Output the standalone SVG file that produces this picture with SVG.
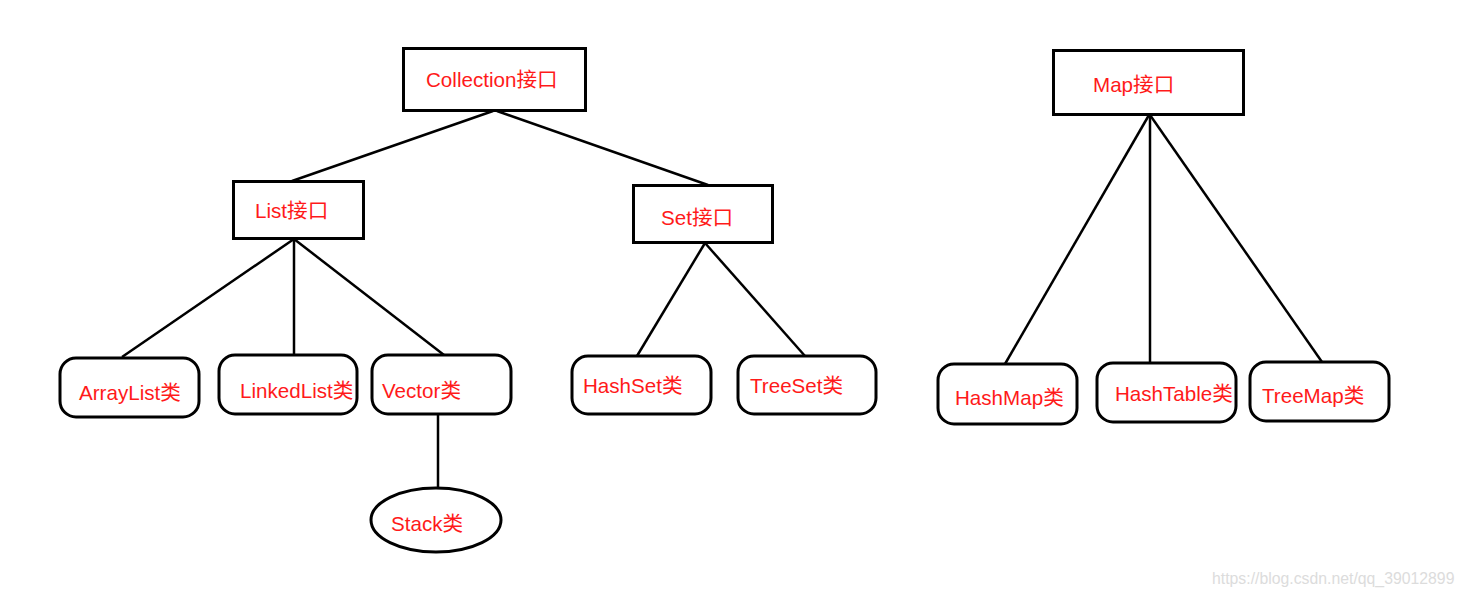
<svg xmlns="http://www.w3.org/2000/svg" width="1465" height="596" viewBox="0 0 1465 596">
<style>
.box{fill:#fff;stroke:#000;stroke-width:3}
.lbl{font-family:"Liberation Sans","Noto Sans CJK SC",sans-serif;font-size:20.6px;fill:#ff1a1a}
.conn line{stroke:#000;stroke-width:2.5}
.wm{font-family:"Liberation Sans",sans-serif;font-size:15.8px;fill:#dcdcdc}
</style>
<rect width="1465" height="596" fill="#fff"/>
<g class="conn">
<line x1="493" y1="111" x2="292" y2="181"/>
<line x1="497" y1="111" x2="708" y2="185"/>
<line x1="294" y1="239" x2="122" y2="357"/>
<line x1="294" y1="239" x2="294" y2="355"/>
<line x1="294" y1="239" x2="444" y2="355"/>
<line x1="438" y1="414" x2="438" y2="488"/>
<line x1="705" y1="243" x2="637" y2="356"/>
<line x1="705" y1="243" x2="805" y2="356"/>
<line x1="1149" y1="115" x2="1005" y2="364"/>
<line x1="1150" y1="115" x2="1150" y2="368"/>
<line x1="1150" y1="115" x2="1322" y2="362"/>
</g>
<g id="collection"><rect class="box" x="403.5" y="48.5" width="182" height="62"/><text class="lbl" x="426" y="87">Collection接口</text></g>
<g id="list"><rect class="box" x="233.5" y="181.5" width="130" height="57"/><text class="lbl" x="255" y="218">List接口</text></g>
<g id="set"><rect class="box" x="633.5" y="185.5" width="139" height="57"/><text class="lbl" x="661" y="225">Set接口</text></g>
<g id="map"><rect class="box" x="1053.5" y="50.5" width="190" height="64"/><text class="lbl" x="1093" y="92">Map接口</text></g>
<g id="arraylist"><rect class="box" x="60" y="358" width="139" height="59" rx="16"/><text class="lbl" x="79" y="400">ArrayList类</text></g>
<g id="linkedlist"><rect class="box" x="219" y="355" width="138" height="59" rx="16"/><text class="lbl" x="240" y="398">LinkedList类</text></g>
<g id="vector"><rect class="box" x="372" y="355" width="139" height="59" rx="16"/><text class="lbl" x="382" y="398">Vector类</text></g>
<g id="stack"><ellipse class="box" cx="436" cy="520" rx="65" ry="32"/><text class="lbl" x="391" y="531">Stack类</text></g>
<g id="hashset"><rect class="box" x="572" y="356" width="139" height="58" rx="16"/><text class="lbl" x="583" y="393">HashSet类</text></g>
<g id="treeset"><rect class="box" x="738" y="356" width="138" height="58" rx="16"/><text class="lbl" x="750" y="393">TreeSet类</text></g>
<g id="hashmap"><rect class="box" x="938" y="364" width="139" height="60" rx="16"/><text class="lbl" x="955" y="405">HashMap类</text></g>
<g id="hashtable"><rect class="box" x="1097" y="363" width="139" height="59" rx="16"/><text class="lbl" x="1115" y="401">HashTable类</text></g>
<g id="treemap"><rect class="box" x="1250" y="362" width="139" height="59" rx="16"/><text class="lbl" x="1262" y="403">TreeMap类</text></g>
<text class="wm" x="1212" y="584">https://blog.csdn.net/qq_39012899</text>
</svg>
